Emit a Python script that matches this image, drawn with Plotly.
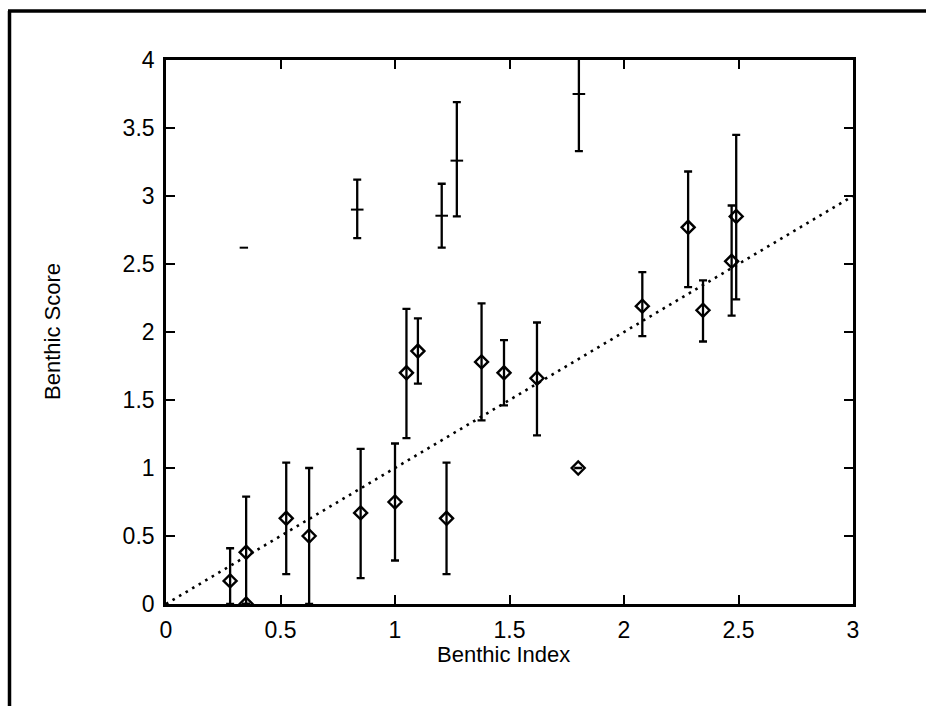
import plotly.graph_objects as go

# Diamond points with error bars
dx = [0.28, 0.35, 0.35, 0.525, 0.625, 0.85, 1.0, 1.05, 1.10, 1.225, 1.378, 1.476, 1.62, 1.80, 2.08, 2.28, 2.345, 2.47, 2.49]
dy = [0.17, 0.38, 0.0, 0.63, 0.50, 0.67, 0.75, 1.70, 1.86, 0.63, 1.78, 1.70, 1.66, 1.0, 2.19, 2.77, 2.16, 2.52, 2.85]
d_lo = [0.0, 0.0, 0.0, 0.22, 0.0, 0.19, 0.32, 1.22, 1.62, 0.22, 1.35, 1.46, 1.24, 1.0, 1.97, 2.33, 1.93, 2.12, 2.24]
d_hi = [0.41, 0.79, 0.0, 1.04, 1.00, 1.14, 1.18, 2.17, 2.10, 1.04, 2.21, 1.94, 2.07, 1.0, 2.44, 3.18, 2.38, 2.93, 3.45]

# Tick-centred points with error bars (no diamond)
tx = [0.835, 1.204, 1.27, 1.803]
ty = [2.90, 2.855, 3.26, 3.75]
t_lo = [2.69, 2.62, 2.85, 3.33]
t_hi = [3.12, 3.09, 3.69, 4.25]

# Lone short dash mark
sx = [0.34]
sy = [2.62]

# Reference line y = x
line_x = [0, 3]
line_y = [0, 3]

x_ticks = [0, 0.5, 1, 1.5, 2, 2.5, 3]
y_ticks = [0, 0.5, 1, 1.5, 2, 2.5, 3, 3.5, 4]

FONT = "Liberation Sans, Arial, sans-serif"

fig = go.Figure()

fig.add_trace(go.Scatter(
    x=line_x, y=line_y, mode="lines",
    line=dict(color="black", width=2.6, dash="2.6px,5px"),
    hoverinfo="skip", showlegend=False,
))

def err(y, lo, hi):
    return [h - v for v, h in zip(y, hi)], [v - l for v, l in zip(y, lo)]

up, dn = err(dy, d_lo, d_hi)
fig.add_trace(go.Scatter(
    x=dx, y=dy, mode="markers",
    marker=dict(symbol="diamond-open", size=10, color="black", line=dict(width=2.4, color="black")),
    error_y=dict(type="data", symmetric=False, array=up, arrayminus=dn,
                 color="black", thickness=2.3, width=4),
    showlegend=False,
))

up2, dn2 = err(ty, t_lo, t_hi)
fig.add_trace(go.Scatter(
    x=tx, y=ty, mode="markers",
    marker=dict(symbol="line-ew", size=9, color="black", line=dict(width=2, color="black")),
    error_y=dict(type="data", symmetric=False, array=up2, arrayminus=dn2,
                 color="black", thickness=2.3, width=4),
    showlegend=False,
))

fig.add_trace(go.Scatter(
    x=sx, y=sy, mode="markers",
    marker=dict(symbol="line-ew", size=6, color="black", line=dict(width=2, color="black")),
    showlegend=False,
))

L, R, T, B = 166, 73, 60, 102
W, H = 926, 706
pw, ph = W - L - R, H - T - B

def px(x):
    return (x - L) / pw

def py(y):
    return (H - B - y) / ph

axis_common = dict(
    showline=True, linecolor="black", linewidth=2.6, mirror="ticks",
    ticks="inside", ticklen=9, tickwidth=2.2, tickcolor="black",
    showgrid=False, zeroline=False,
    tickfont=dict(family=FONT, size=23, color="black"),
)

fig.update_layout(
    width=W, height=H,
    margin=dict(l=L, r=R, t=T, b=B),
    paper_bgcolor="white", plot_bgcolor="white",
    xaxis=dict(range=[0, 3], tickvals=x_ticks, ticklabelstandoff=4, **axis_common),
    yaxis=dict(range=[0, 4], tickvals=y_ticks, ticklabelstandoff=4, **axis_common),
    annotations=[
        dict(text="Benthic Index", x=px(503), y=py(654), xref="paper", yref="paper",
             xanchor="center", yanchor="middle", showarrow=False,
             font=dict(family=FONT, size=22, color="black")),
        dict(text="Benthic Score", x=px(52), y=py(332), xref="paper", yref="paper",
             xanchor="center", yanchor="middle", showarrow=False, textangle=-90,
             font=dict(family=FONT, size=22, color="black")),
    ],
    shapes=[
        dict(type="line", xref="paper", yref="paper", x0=px(8), y0=py(11), x1=px(926), y1=py(11),
             line=dict(color="black", width=3.5)),
        dict(type="line", xref="paper", yref="paper", x0=px(9.5), y0=py(11), x1=px(9.5), y1=py(706),
             line=dict(color="black", width=3.5)),
    ],
)

fig.write_html("out.html", config={"displayModeBar": False})
